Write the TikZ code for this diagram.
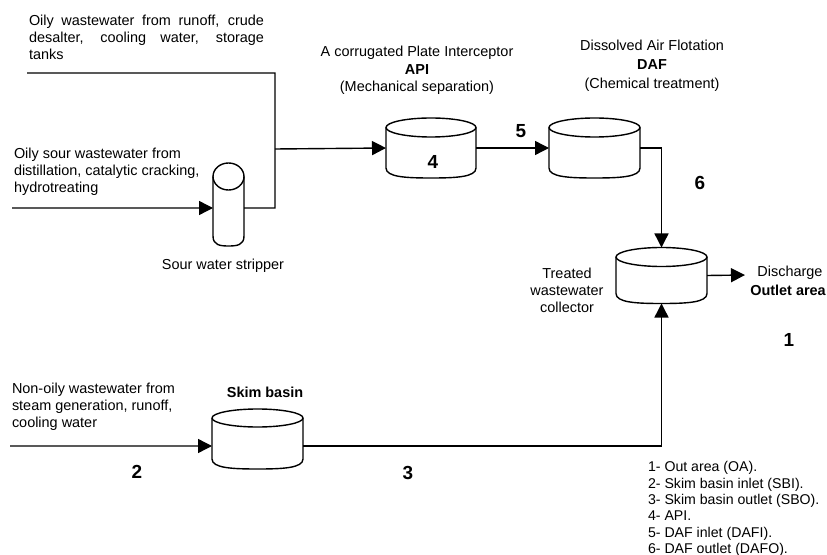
\documentclass[tikz,border=0pt]{standalone}
\usepackage{fontspec}
\setmainfont{Liberation Sans}
\usetikzlibrary{arrows.meta}
\newcommand{\tankshape}[2]{% node name, ellipse half-height
  \draw[tankline] (#1.north west) ++(0,#2) arc[start angle=180,end angle=0,x radius=0.5*\tankw,y radius=#2]
    arc[start angle=0,end angle=-180,x radius=0.5*\tankw,y radius=#2];
  \draw[tankline] (#1.north west) ++(0,#2) -- ([yshift=10bp]#1.south west)
    .. controls ([yshift=1bp]#1.south west) and ([xshift=0.22*\tankw bp]#1.south west) .. (#1.south)
    .. controls ([xshift=-0.22*\tankw bp]#1.south east) and ([yshift=1bp]#1.south east) .. ([yshift=10bp]#1.south east) -- ([yshift=-#2 bp]#1.north east);
}
\tikzset{
  x=1bp,y=-1bp,
  tankline/.style={line width=1.4bp,line join=round},
  tankbox/.style={inner sep=0pt,outer sep=0pt,minimum width=#1},
  flow/.style={line width=1.4bp,-{Triangle[length=14bp,width=14bp]},shorten >=0pt},
  pipe/.style={line width=1.4bp,line join=miter},
  txt/.style={inner sep=0pt,outer sep=0pt,font=\fontsize{14.5}{17}\selectfont,align=center},
  txtl/.style={txt,align=left,anchor=west},
  num/.style={inner sep=0pt,outer sep=0pt,font=\fontsize{19}{19}\selectfont\bfseries},
  lgd/.style={inner sep=0pt,outer sep=0pt,anchor=north west,align=left,font=\fontsize{14.2}{16.4}\selectfont}
}
\begin{document}
\begin{tikzpicture}
\useasboundingbox (0,0) rectangle (827,555);
\fill[white] (0,0) rectangle (827,555);
% tanks
\node[tankbox=90bp,minimum height=60bp] (api) at (431,148) {};
\node[tankbox=91bp,minimum height=60bp] (daf) at (594.5,148) {};
\node[tankbox=91bp,minimum height=56bp] (col) at (661.5,275.5) {};
\node[tankbox=91bp,minimum height=60bp] (skim) at (257.5,439) {};
\node[tankbox=31bp,minimum height=83bp] (strip) at (228.5,204.5) {};
\def\tankw{90}\tankshape{api}{9.5}
\def\tankw{91}\tankshape{daf}{9.5}
\tankshape{col}{9.5}
\tankshape{skim}{9}
\def\tankw{31}\tankshape{strip}{13.5}
% free ends
\coordinate (topin) at (27,73);
\coordinate (sourin) at (12,208);
\coordinate (nonoil) at (10,446);
\coordinate (dis) at (745,275);
\coordinate (junc) at (275,149);
% connectors
\draw[pipe] (topin) -| (275,208) -- ([yshift=-3.5bp]strip.east);
\draw[flow] (sourin) -- ([yshift=-3.5bp]strip.west);
\draw[flow] (junc) -- (api.west);
\draw[flow] (api.east) -- (daf.west);
\draw[flow] (daf.east) -| (col.north);
\draw[flow] (col.east) -- (dis);
\draw[flow] (nonoil) -- ([yshift=-7bp]skim.west);
\draw[flow] ([yshift=-7bp]skim.east) -| (col.south);
% text
\node[txt,anchor=west,text width=235bp,align=justify] (t1) at (29,37) {Oily wastewater from runoff, crude\linebreak desalter, cooling water, storage\linebreak tanks};
\node[txtl] (t2) at (14,171.5) {Oily sour wastewater from\\distillation, catalytic cracking,\\hydrotreating};
\node[txt] (t3) at (223,266) {Sour water stripper};
\node[txt,font=\fontsize{14.5}{17.5}\selectfont] (t4) at (417,70.5) {A corrugated Plate Interceptor\\\textbf{API}\\(Mechanical separation)};
\node[txt,font=\fontsize{14.5}{19}\selectfont] (t5) at (652,66) {Dissolved Air Flotation\\\textbf{DAF}\\(Chemical treatment)};
\node[txt] (t6) at (567,290) {Treated\\wastewater\\collector};
\node[txt] (t7) at (790,273) {Discharge};
\node[txt,font=\fontsize{14.5}{17}\selectfont\bfseries] (t8) at (788,290) {Outlet area};
\node[txtl] (t9) at (12,406.5) {Non-oily wastewater from\\steam generation, runoff,\\cooling water};
\node[txt,font=\fontsize{14.5}{17}\selectfont\bfseries] (t10) at (265,392) {Skim basin};
\node[lgd] (leg) at (648,461.5) {1- Out area (OA).\\2- Skim basin inlet (SBI).\\3- Skim basin outlet (SBO).\\4- API.\\5- DAF inlet (DAFI).\\6- DAF outlet (DAFO).};
\node[num] (n1) at (789,340) {1};
\node[num] (n2) at (137,472) {2};
\node[num] (n3) at (408,473) {3};
\node[num] (n4) at (433,162) {4};
\node[num] (n5) at (521,131) {5};
\node[num] (n6) at (700,183) {6};
\end{tikzpicture}
\end{document}
